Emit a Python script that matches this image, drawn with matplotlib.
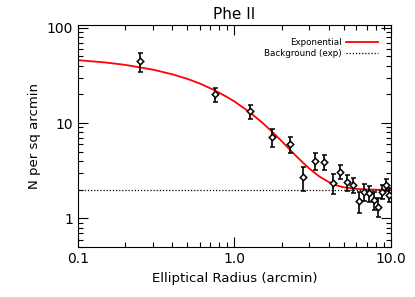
import matplotlib
matplotlib.use("Agg")
import matplotlib.pyplot as plt
from matplotlib.ticker import FixedLocator, NullFormatter, LogLocator

# binned surface density profile
radius = [0.25, 0.75, 1.25, 1.75, 2.25, 2.75, 3.25, 3.75, 4.25, 4.75,
          5.25, 5.75, 6.25, 6.75, 7.25, 7.75, 8.25, 8.75, 9.25, 9.75]
density = [44.5, 20.0, 13.3, 7.1, 6.0, 2.7, 4.0, 3.9, 2.35, 3.1,
           2.4, 2.25, 1.52, 1.9, 1.85, 1.56, 1.33, 1.9, 2.25, 1.77]
density_err = [10.0, 3.5, 2.3, 1.5, 1.1, 0.75, 0.8, 0.7, 0.55, 0.5,
               0.45, 0.4, 0.37, 0.38, 0.36, 0.32, 0.3, 0.32, 0.33, 0.3]

# exponential fit curve
fit_radius = [0.1, 0.15, 0.2, 0.3, 0.4, 0.5, 0.6, 0.75, 0.9, 1.0, 1.25, 1.5,
              1.75, 2.0, 2.25, 2.5, 2.75, 3.0, 3.5, 4.0, 4.5, 5.0, 6.0, 7.0,
              8.0, 10.0]
fit_density = [45.7, 43.2, 40.8, 36.4, 32.5, 29.1, 26.0, 22.0, 18.7, 16.85,
               13.0, 10.15, 8.04, 6.47, 5.31, 4.45, 3.82, 3.35, 2.74, 2.41,
               2.22, 2.12, 2.04, 2.01, 2.0, 2.0]
background = 2.0

plt.rcParams['font.family'] = ['DejaVu Sans']

fig = plt.figure(figsize=(4.15, 2.97), dpi=100)
ax = fig.add_axes([0.188, 0.168, 0.754, 0.748])

ax.plot(fit_radius, fit_density, color="red", lw=1.3, label="Exponential")
ax.axhline(background, color="black", ls=(0, (1, 1.5)), lw=0.9,
           label="Background (exp)")
ax.errorbar(radius, density, yerr=density_err, fmt="D", ms=3.3, mfc="white",
            mec="black", mew=1.1, ecolor="black", elinewidth=1.2, capsize=1.8,
            capthick=1.2, zorder=3)

ax.set_xscale("log")
ax.set_yscale("log")
ax.set_xlim(0.1, 10)
ax.set_ylim(0.5, 107)

ax.xaxis.set_major_locator(FixedLocator([0.1, 1, 10]))
ax.set_xticklabels(["0.1", "1.0", "10.0"])
ax.yaxis.set_major_locator(FixedLocator([1, 10, 100]))
ax.set_yticklabels(["1", "10", "100"])
ax.xaxis.set_minor_locator(LogLocator(base=10, subs=range(2, 10)))
ax.yaxis.set_minor_locator(LogLocator(base=10, subs=range(2, 10)))
ax.xaxis.set_minor_formatter(NullFormatter())
ax.yaxis.set_minor_formatter(NullFormatter())
ax.tick_params(which="both", direction="in", top=True, right=True, labelsize=10)
ax.tick_params(which="major", length=7, width=0.8)
ax.tick_params(which="minor", length=3.5, width=0.8)

ax.set_title("Phe II", fontsize=11, pad=4)
ax.set_xlabel("Elliptical Radius (arcmin)", fontsize=9.5)
ax.set_ylabel("N per sq arcmin", fontsize=9.5)

ax.legend(loc="upper right", frameon=False, fontsize=6.3, markerfirst=False,
          handlelength=3.6, handletextpad=0.5, borderaxespad=1.1,
          labelspacing=0.25)

fig.savefig("out.png", dpi=100)
